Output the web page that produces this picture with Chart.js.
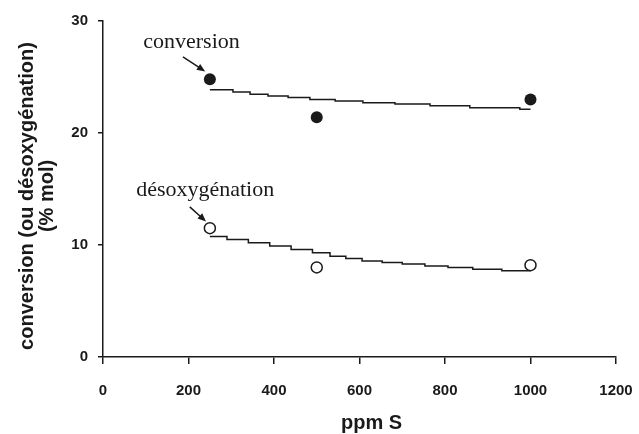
<!DOCTYPE html>
<html>
<head>
<meta charset="utf-8">
<script src="https://cdn.jsdelivr.net/npm/chart.js@4.4.1/dist/chart.umd.min.js"></script>
<style>
  html, body { margin: 0; padding: 0; background: #fff; }
  #wrap { width: 639px; height: 434px; position: relative; }
</style>
</head>
<body>
<div id="wrap"><canvas id="chart"></canvas></div>
<script>
// ppm S levels where conversion / deoxygenation were measured
const ppmLevels = [250, 500, 1000];
const conversionValues = [24.8, 21.4, 23.0];
const deoxygenationValues = [11.5, 8.0, 8.2];

// trend curves (ppm S, value), drawn as steps
const conversionTrendX = [250, 304, 344, 386, 433, 484, 543, 608, 683, 765, 858, 975, 1000];
const conversionTrendY = [23.87, 23.66, 23.45, 23.3, 23.16, 23.0, 22.85, 22.71, 22.58, 22.44, 22.26, 22.11, 22.11];
const deoxygenationTrendX = [250, 290, 340, 390, 440, 490, 531, 568, 606, 653, 700, 753, 807, 865, 933, 1000];
const deoxygenationTrendY = [10.76, 10.5, 10.2, 9.9, 9.6, 9.3, 8.99, 8.79, 8.58, 8.44, 8.31, 8.13, 7.99, 7.83, 7.71, 7.71];

const xTicks = [0, 200, 400, 600, 800, 1000, 1200];
const yTicks = [0, 10, 20, 30];

const xTitle = 'ppm S';
const yTitle = ['conversion (ou désoxygénation)', '(% mol)'];

// callouts: label position and arrow (tail -> head), in data units
const callouts = [
    { text: 'conversion', x: 207, y: 27.6, tail: [187, 26.8], head: [239, 25.5] },
    { text: 'désoxygénation', x: 239, y: 14.35, tail: [203, 13.4], head: [241, 12.1] }
];

const ink = '#1a1a1a';
const tickFont = { family: 'Liberation Sans, Arial, sans-serif', size: 15, weight: 'bold' };
const titleCss = 'bold 20px "Liberation Sans", Arial, sans-serif';

function pairs(xs, ys) {
    return xs.map((x, i) => ({ x: x, y: ys[i] }));
}

// axis titles, placed against the plot area
const axisTitlePlugin = {
    id: 'axisTitles',
    afterDraw(chart) {
        const ctx = chart.ctx;
        const area = chart.chartArea;
        ctx.save();
        ctx.fillStyle = ink;
        ctx.font = titleCss;
        ctx.textAlign = 'center';
        ctx.textBaseline = 'middle';
        ctx.fillText(xTitle, (area.left + area.right) / 2 + 12, chart.height - 11);

        ctx.translate(area.left - 76, (area.top + area.bottom) / 2 + 7);
        ctx.rotate(-Math.PI / 2);
        yTitle.forEach((line, i) => ctx.fillText(line, 0, i * 20));
        ctx.restore();
    }
};

const calloutPlugin = {
    id: 'callouts',
    afterDatasetsDraw(chart) {
        const ctx = chart.ctx;
        const xs = chart.scales.x, ys = chart.scales.y;
        ctx.save();
        ctx.fillStyle = ink;
        ctx.strokeStyle = ink;
        ctx.font = '22px "Liberation Serif", "Times New Roman", serif';
        ctx.textAlign = 'center';
        ctx.textBaseline = 'alphabetic';
        callouts.forEach(c => {
            ctx.fillText(c.text, xs.getPixelForValue(c.x), ys.getPixelForValue(c.y));
            const x0 = xs.getPixelForValue(c.tail[0]), y0 = ys.getPixelForValue(c.tail[1]);
            const x1 = xs.getPixelForValue(c.head[0]), y1 = ys.getPixelForValue(c.head[1]);
            const ang = Math.atan2(y1 - y0, x1 - x0);
            ctx.lineWidth = 1.5;
            ctx.beginPath();
            ctx.moveTo(x0, y0);
            ctx.lineTo(x1 - 6 * Math.cos(ang), y1 - 6 * Math.sin(ang));
            ctx.stroke();
            ctx.beginPath();
            ctx.moveTo(x1, y1);
            ctx.lineTo(x1 - 9 * Math.cos(ang - 0.4), y1 - 9 * Math.sin(ang - 0.4));
            ctx.lineTo(x1 - 9 * Math.cos(ang + 0.4), y1 - 9 * Math.sin(ang + 0.4));
            ctx.closePath();
            ctx.fill();
        });
        ctx.restore();
    }
};

new Chart(document.getElementById('chart').getContext('2d'), {
    type: 'scatter',
    data: {
        datasets: [
            {
                label: 'conversion trend',
                data: pairs(conversionTrendX, conversionTrendY),
                showLine: true,
                stepped: 'before',
                borderColor: ink,
                borderWidth: 1.5,
                pointRadius: 0,
                order: 2
            },
            {
                label: 'désoxygénation trend',
                data: pairs(deoxygenationTrendX, deoxygenationTrendY),
                showLine: true,
                stepped: 'before',
                borderColor: ink,
                borderWidth: 1.5,
                pointRadius: 0,
                order: 2
            },
            {
                label: 'conversion',
                data: pairs(ppmLevels, conversionValues),
                backgroundColor: ink,
                borderColor: ink,
                borderWidth: 0,
                pointRadius: 6,
                order: 1
            },
            {
                label: 'désoxygénation',
                data: pairs(ppmLevels, deoxygenationValues),
                backgroundColor: '#fff',
                borderColor: ink,
                borderWidth: 1.5,
                pointRadius: 5.5,
                order: 1
            }
        ]
    },
    options: {
        responsive: true,
        maintainAspectRatio: false,
        animation: false,
        layout: { padding: { left: 11, right: 23, top: 21, bottom: 0 } },
        plugins: {
            legend: { display: false },
            tooltip: { enabled: false }
        },
        scales: {
            x: {
                type: 'linear',
                min: 0,
                max: 1200,
                afterBuildTicks: axis => { axis.ticks = xTicks.map(v => ({ value: v })); },
                grid: { drawOnChartArea: false, color: ink, lineWidth: 1.5, tickLength: 7 },
                border: { color: ink, width: 1.5 },
                ticks: { color: ink, font: tickFont, padding: 18, maxRotation: 0, callback: v => String(v) },
                afterFit: scale => {
                    scale.height = 77;
                    scale.paddingLeft = 0;
                    scale.paddingRight = 0;
                }
            },
            y: {
                type: 'linear',
                min: 0,
                max: 30,
                afterBuildTicks: axis => { axis.ticks = yTicks.map(v => ({ value: v })); },
                grid: { drawOnChartArea: false, color: ink, lineWidth: 1.5, tickLength: 5 },
                border: { color: ink, width: 1.5 },
                ticks: { color: ink, font: tickFont, padding: 10, callback: v => String(v) },
                afterFit: scale => {
                    scale.width = 92;
                    scale.paddingTop = 0;
                    scale.paddingBottom = 0;
                }
            }
        }
    },
    plugins: [calloutPlugin, axisTitlePlugin]
});
</script>
</body>
</html>
